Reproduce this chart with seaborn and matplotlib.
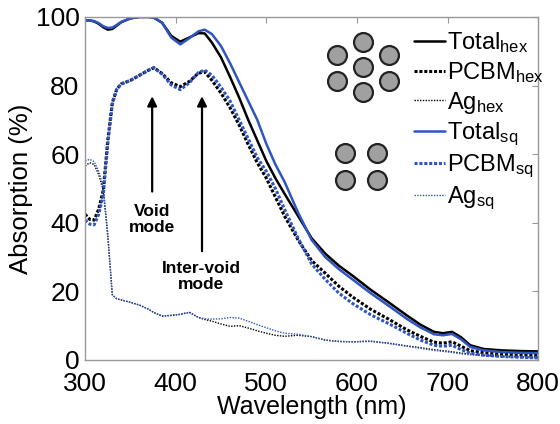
import matplotlib
matplotlib.use("Agg")
import matplotlib.pyplot as plt
import seaborn as sns
import pandas as pd

# wavelength grid (nm) shared by all curves
wavelength = [300, 305, 310, 315, 320, 325, 330, 335, 340, 350, 360, 370, 376, 385, 395,
              405, 415, 425, 432, 440, 450, 460, 470, 480, 490, 500, 510, 520, 535, 550,
              565, 580, 595, 615, 635, 655, 670, 685, 695, 705, 715, 725, 740, 760, 780, 800]

total_hex = [99.0, 99.0, 98.7, 98.0, 97.0, 96.3, 96.5, 97.5, 98.5, 99.6, 100, 100, 99.8, 98.3, 94.5,
             92.8, 94.0, 95.3, 95.2, 92.5, 88.2, 82.5, 76.5, 70.0, 64.0, 58.0, 53.0, 48.5, 42.0, 35.5,
             31.0, 27.5, 24.6, 20.5, 16.8, 13.0, 10.3, 8.2, 7.8, 8.2, 6.6, 4.3, 3.2, 2.8, 2.6, 2.5]
pcbm_hex = [42.5, 41.0, 40.8, 44.0, 49.5, 64.0, 75.0, 79.0, 80.5, 81.5, 83.0, 84.5, 85.2, 83.5, 80.8,
            79.7, 81.2, 83.6, 84.0, 81.5, 77.8, 73.5, 68.5, 62.8, 57.5, 53.0, 47.5, 42.0, 35.0, 29.0,
            25.3, 21.5, 18.4, 14.8, 11.9, 8.8, 6.9, 5.2, 4.9, 5.3, 4.0, 2.7, 2.1, 1.7, 1.5, 1.4]
ag_hex = [56.6, 57.5, 57.0, 54.0, 49.5, 36.0, 19.0, 17.8, 17.5, 16.8, 16.0, 14.8, 13.8, 12.8, 13.0,
          13.3, 13.9, 12.4, 11.8, 11.3, 10.5, 9.8, 10.0, 9.3, 8.5, 7.8, 7.2, 6.9, 7.2, 6.8,
          5.8, 5.4, 5.3, 5.5, 4.9, 4.1, 3.6, 3.0, 2.7, 2.4, 2.0, 1.7, 1.4, 1.1, 0.9, 0.8]

total_sq = [99.0, 99.0, 98.8, 98.2, 97.3, 96.8, 96.9, 97.7, 98.6, 99.6, 100, 100, 99.8, 98.3, 94.0,
            92.0, 93.8, 95.8, 96.3, 95.0, 91.5, 86.5, 81.0, 75.5, 70.0, 63.0, 57.0, 52.0, 43.0, 35.0,
            30.0, 26.5, 23.5, 19.5, 15.8, 12.0, 9.5, 7.5, 7.2, 7.6, 6.0, 3.8, 2.8, 2.3, 2.1, 2.0]
pcbm_sq = [40.8, 39.6, 39.4, 42.5, 48.0, 63.0, 74.5, 79.0, 80.5, 81.5, 83.0, 84.5, 85.2, 83.3, 80.2,
           78.8, 80.8, 83.8, 84.5, 83.0, 79.5, 75.5, 70.0, 64.5, 59.0, 55.0, 50.0, 44.0, 35.5, 28.0,
           23.5, 19.5, 16.5, 13.2, 10.6, 7.8, 5.8, 4.3, 4.0, 4.3, 3.0, 2.0, 1.4, 1.0, 0.8, 0.6]
ag_sq = [58.0, 58.5, 57.8, 55.0, 50.5, 37.0, 19.0, 17.8, 17.5, 16.8, 16.0, 14.8, 13.8, 12.8, 13.0,
         13.3, 13.9, 12.4, 12.0, 11.9, 12.0, 12.4, 12.2, 11.3, 10.3, 9.4, 8.5, 7.8, 7.5, 6.8,
         5.8, 5.4, 5.3, 5.4, 4.8, 4.0, 3.4, 2.8, 2.5, 2.2, 1.8, 1.5, 1.2, 0.9, 0.7, 0.6]

series_labels = [r"Total$_\mathrm{hex}$", r"PCBM$_\mathrm{hex}$", r"Ag$_\mathrm{hex}$",
                 r"Total$_\mathrm{sq}$", r"PCBM$_\mathrm{sq}$", r"Ag$_\mathrm{sq}$"]

# lattice sketches (wavelength, absorption) positions
hex_x = [607, 607, 607, 578, 635, 578, 635]
hex_y = [85.5, 92.8, 78.2, 89.0, 89.0, 81.2, 81.2]
sq_x = [587, 622, 587, 622]
sq_y = [60.2, 60.2, 52.5, 52.5]

sns.set_style("white")
plt.rcParams['font.family'] = ['Liberation Sans', 'DejaVu Sans']
plt.rcParams['mathtext.fontset'] = 'custom'
plt.rcParams['mathtext.rm'] = 'Liberation Sans'
plt.rcParams['mathtext.it'] = 'Liberation Sans'
plt.rcParams['text.color'] = 'black'
plt.rcParams['axes.labelcolor'] = 'black'
plt.rcParams['xtick.color'] = 'black'
plt.rcParams['ytick.color'] = 'black'

df = pd.DataFrame({"wl": wavelength, "th": total_hex, "ph": pcbm_hex, "ah": ag_hex,
                   "ts": total_sq, "ps": pcbm_sq, "as": ag_sq})

blue = "#2f55c0"
styles = [("th", "black", "-", 1.8), ("ph", "black", (0, (1, 0.6)), 2.2), ("ah", "black", (0, (1, 1)), 1.0),
          ("ts", blue, "-", 1.8), ("ps", blue, (0, (1, 0.6)), 2.2), ("as", blue, (0, (1, 1)), 1.0)]

fig = plt.figure(figsize=(5.6, 4.24), dpi=100)
ax = fig.add_axes([0.152, 0.151, 0.809, 0.809])

for (col, c, ls, lw), lab in zip(styles, series_labels):
    sns.lineplot(data=df, x="wl", y=col, color=c, linestyle=ls, linewidth=lw, label=lab, ax=ax, sort=False)

ax.scatter(hex_x, hex_y, s=185, facecolor="#a0a0a0", edgecolor="#222222", linewidth=1.6, zorder=5)
ax.scatter(sq_x, sq_y, s=185, facecolor="#a0a0a0", edgecolor="#222222", linewidth=1.6, zorder=5)

ax.annotate("", xy=(374, 77.7), xytext=(374, 48.3),
            arrowprops=dict(arrowstyle="-|>", color="black", lw=1.6, mutation_scale=14))
ax.annotate("", xy=(429, 77.7), xytext=(429, 30.9),
            arrowprops=dict(arrowstyle="-|>", color="black", lw=1.6, mutation_scale=14))
ax.text(374, 41, "Void\nmode", ha="center", va="center", fontsize=12.5, fontweight="bold",
        linespacing=1.1)
ax.text(428, 24.3, "Inter-void\nmode", ha="center", va="center", fontsize=12.5, fontweight="bold",
        linespacing=1.1)

ax.set_xlim(300, 800)
ax.set_ylim(0, 100)
ax.set_xticks(range(300, 801, 100))
ax.set_yticks(range(0, 101, 20))
ax.set_xlabel("Wavelength (nm)", fontsize=18, labelpad=-1)
ax.set_ylabel("Absorption (%)", fontsize=18.5, labelpad=2)
ax.tick_params(axis="both", labelsize=19, direction="in", length=4, color="#999999",
               labelcolor="black", top=True, right=True, pad=4)
ax.tick_params(axis="x", pad=9)
for sp in ax.spines.values():
    sp.set_color("#999999")
    sp.set_linewidth(1.0)

leg = ax.legend(loc="upper left", bbox_to_anchor=(0.7, 0.995), frameon=False, fontsize=17,
                handlelength=1.3, handletextpad=0.1, labelspacing=0.2, borderpad=0)

fig.savefig("out.png", dpi=100)
